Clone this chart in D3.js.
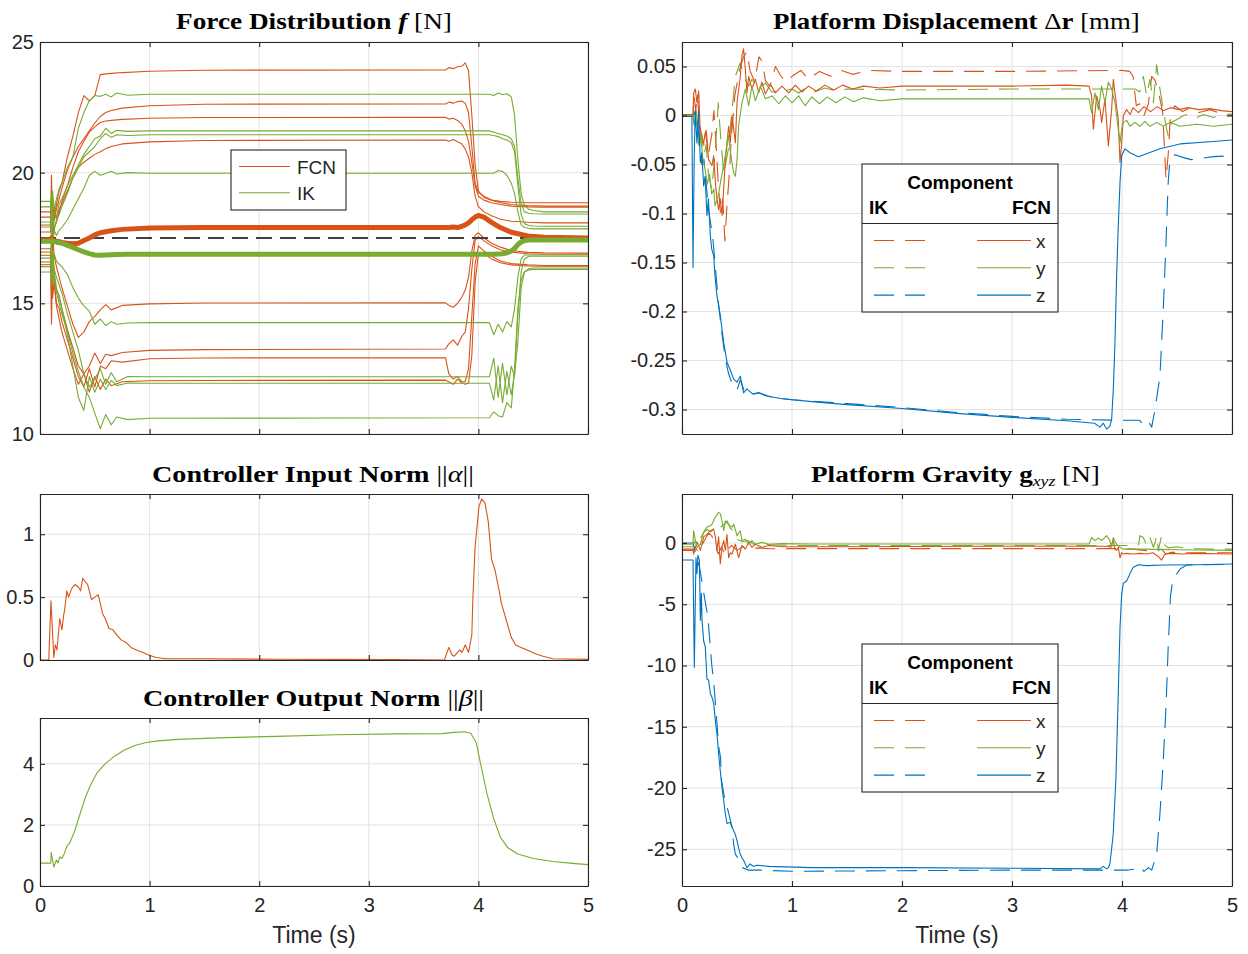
<!DOCTYPE html>
<html><head><meta charset="utf-8">
<script src="https://cdn.jsdelivr.net/npm/d3@7"></script>
<style>body{margin:0;background:#fff}svg{display:block}</style>
</head><body><svg id="c" width="1248" height="954"></svg>
<script>
// ---------------- DATA ----------------
const timeTicks = [0, 1, 2, 3, 4, 5];
const timeTickLabels = ["0", "1", "2", "3", "4", "5"];
const forceTicks = [10, 15, 20, 25];
const forceTickLabels = ["10", "15", "20", "25"];
const alphaTicks = [0, 0.5, 1];
const alphaTickLabels = ["0", "0.5", "1"];
const betaTicks = [0, 2, 4];
const betaTickLabels = ["0", "2", "4"];
const dispTicks = [-0.3, -0.25, -0.2, -0.15, -0.1, -0.05, 0, 0.05];
const dispTickLabels = ["-0.3", "-0.25", "-0.2", "-0.15", "-0.1", "-0.05", "0", "0.05"];
const gravTicks = [-25, -20, -15, -10, -5, 0];
const gravTickLabels = ["-25", "-20", "-15", "-10", "-5", "0"];
const components = ["x", "y", "z"];
const methods = ["FCN", "IK"];

// Force distribution, FCN (8 cables + mean)
const forceTimeFCN = [0, 0.095, 0.105, 0.115, 0.13, 0.15, 0.175, 0.2, 0.25, 0.3, 0.35, 0.4, 0.45, 0.5, 0.55, 0.6, 0.65, 0.75, 1.0, 1.5, 3.7, 3.73, 3.77, 3.81, 3.85, 3.88, 3.91, 3.94, 3.97, 4.0, 4.05, 4.12, 4.2, 4.3, 4.45, 4.6, 5.0];
const forceFCN = [
 [18.0, 18.0, 19.9, 17.2, 18.4, 18.8, 19.3, 19.6, 20.6, 21.4, 22.3, 22.95, 22.75, 22.95, 23.75, 23.78, 23.8, 23.83, 23.88, 23.92, 23.93, 24.02, 23.98, 24.05, 24.08, 24.2, 23.9, 22.2, 20.3, 19.3, 19.05, 18.95, 18.9, 18.87, 18.85, 18.85, 18.85],
 [18.5, 18.5, 17.6, 18.9, 18.2, 18.6, 19.0, 19.4, 20.1, 20.6, 21.0, 21.3, 21.6, 21.9, 22.15, 22.3, 22.38, 22.47, 22.56, 22.62, 22.63, 22.7, 22.66, 22.72, 22.74, 22.65, 22.3, 21.0, 19.6, 19.25, 19.1, 18.95, 18.85, 18.78, 18.74, 18.72, 18.72],
 [17.73, 17.73, 18.6, 17.0, 17.9, 18.1, 18.5, 18.9, 19.5, 20.2, 20.8, 21.2, 21.55, 21.75, 21.92, 21.98, 22.0, 22.04, 22.08, 22.11, 22.12, 22.05, 22.08, 22.0, 21.85, 21.6, 21.2, 20.4, 19.5, 19.1, 18.95, 18.85, 18.78, 18.72, 18.69, 18.68, 18.68],
 [18.3, 18.3, 18.9, 17.5, 18.6, 18.2, 18.6, 18.8, 19.3, 19.8, 20.2, 20.4, 20.55, 20.7, 20.8, 20.92, 21.0, 21.1, 21.18, 21.23, 21.25, 21.2, 21.27, 21.18, 21.1, 20.9, 20.6, 20.0, 19.1, 18.7, 18.5, 18.35, 18.22, 18.14, 18.1, 18.08, 18.08],
 [17.09, 17.09, 16.2, 17.6, 16.8, 16.4, 16.0, 15.6, 14.9, 14.2, 13.7, 13.9, 14.3, 14.5, 14.75, 14.95, 14.75, 14.92, 14.98, 15.01, 15.02, 14.92, 14.85, 15.0, 15.25, 15.5, 16.0, 17.0, 17.6, 17.7, 17.5, 17.3, 17.15, 17.02, 16.95, 16.93, 16.92],
 [16.84, 16.84, 14.2, 17.0, 16.0, 15.5, 15.3, 14.8, 14.0, 13.3, 12.6, 12.3, 12.6, 13.1, 12.7, 13.05, 13.0, 13.12, 13.2, 13.23, 13.25, 13.45, 13.6, 13.4, 13.75, 13.9, 14.8, 16.3, 17.4, 17.55, 17.4, 17.2, 17.05, 16.96, 16.9, 16.88, 16.88],
 [16.58, 16.58, 15.6, 16.9, 15.7, 15.0, 14.8, 14.3, 13.6, 12.9, 12.2, 11.8, 12.5, 11.8, 12.6, 12.5, 12.8, 12.75, 12.88, 12.91, 12.92, 12.3, 12.1, 12.2, 12.0, 12.0, 12.5, 14.5, 16.5, 17.2, 17.0, 16.8, 16.62, 16.52, 16.47, 16.45, 16.45],
 [16.4, 16.4, 16.9, 15.2, 15.9, 14.9, 14.4, 13.9, 13.2, 12.5, 11.9, 12.3, 11.6, 12.2, 11.7, 12.1, 11.85, 12.0, 12.04, 12.05, 12.06, 12.0, 11.9, 12.1, 11.95, 11.9, 11.95, 13.0, 15.8, 16.9, 16.9, 16.7, 16.55, 16.47, 16.43, 16.42, 16.42]
];
const forceFCNMean = [17.42, 17.42, 17.5, 17.38, 17.4, 17.38, 17.36, 17.33, 17.3, 17.28, 17.3, 17.4, 17.5, 17.62, 17.7, 17.74, 17.78, 17.83, 17.88, 17.9, 17.9, 17.9, 17.92, 17.9, 17.95, 18.0, 18.08, 18.2, 18.3, 18.36, 18.3, 18.1, 17.9, 17.72, 17.58, 17.53, 17.5];

// Force distribution, IK (8 cables + mean)
const forceTimeIK = [0, 0.095, 0.105, 0.115, 0.13, 0.15, 0.175, 0.2, 0.25, 0.3, 0.35, 0.4, 0.45, 0.5, 0.55, 0.6, 0.65, 0.7, 0.8, 1.0, 4.1, 4.14, 4.18, 4.22, 4.26, 4.3, 4.33, 4.36, 4.39, 4.42, 4.46, 4.5, 4.6, 5.0];
const forceIK = [
 [18.9, 18.9, 18.2, 19.3, 18.6, 19.0, 19.4, 19.6, 20.2, 20.6, 21.7, 22.3, 22.75, 22.95, 22.92, 23.0, 22.9, 23.05, 22.96, 23.0, 23.0, 22.95, 23.05, 22.98, 23.02, 22.9, 22.2, 20.5, 19.2, 18.75, 18.6, 18.55, 18.5, 18.5],
 [18.69, 18.69, 19.2, 17.9, 18.5, 18.3, 18.8, 19.0, 19.5, 19.9, 20.3, 20.7, 21.0, 21.3, 21.4, 21.7, 21.5, 21.62, 21.58, 21.6, 21.6, 21.55, 21.5, 21.45, 21.4, 21.3, 21.0, 19.8, 18.8, 18.5, 18.45, 18.43, 18.42, 18.42],
 [18.11, 18.11, 17.5, 18.6, 17.8, 18.2, 18.4, 18.7, 19.2, 19.8, 20.2, 20.6, 20.8, 21.0, 21.3, 21.5, 21.35, 21.45, 21.42, 21.45, 21.45, 21.42, 21.38, 21.3, 21.25, 21.15, 20.8, 19.5, 18.4, 18.05, 17.98, 17.96, 17.95, 17.95],
 [17.92, 17.92, 18.5, 17.4, 17.8, 17.6, 17.8, 17.9, 18.2, 18.6, 19.0, 19.4, 19.9, 20.05, 19.9, 19.97, 20.05, 19.95, 20.0, 19.98, 19.98, 19.98, 20.08, 20.05, 19.9, 19.6, 19.2, 18.5, 18.0, 17.9, 17.87, 17.85, 17.85, 17.85],
 [16.96, 16.96, 17.4, 16.5, 16.9, 16.6, 16.5, 16.4, 16.1, 15.6, 15.2, 14.9, 14.7, 14.2, 14.4, 14.15, 14.3, 14.2, 14.25, 14.26, 14.26, 13.8, 14.2, 13.9, 14.3, 14.1, 14.8, 16.0, 16.7, 16.85, 16.85, 16.85, 16.85, 16.85],
 [16.73, 16.73, 16.0, 17.0, 16.3, 16.0, 15.7, 15.4, 14.6, 13.9, 13.2, 12.3, 11.8, 12.1, 12.5, 11.9, 12.35, 12.0, 12.2, 12.19, 12.19, 12.9, 11.4, 12.7, 11.5, 12.6, 12.2, 14.5, 16.2, 16.7, 16.8, 16.8, 16.8, 16.8],
 [16.48, 16.48, 17.0, 15.9, 16.2, 15.6, 15.2, 14.8, 13.8, 12.6, 11.4, 10.9, 12.2, 11.6, 12.1, 11.7, 12.05, 11.85, 11.95, 11.94, 11.94, 11.3, 12.6, 11.2, 12.4, 11.5, 12.3, 13.5, 15.6, 16.2, 16.33, 16.35, 16.35, 16.35],
 [16.2, 16.2, 15.7, 16.5, 15.9, 15.4, 15.0, 14.6, 13.9, 13.1, 12.4, 11.8, 11.4, 10.8, 10.2, 10.75, 10.35, 10.65, 10.55, 10.6, 10.62, 10.85, 10.7, 10.65, 11.2, 11.0, 12.5, 14.8, 15.9, 16.2, 16.28, 16.3, 16.3, 16.3]
];
const forceIKMean = [17.38, 17.38, 17.35, 17.4, 17.36, 17.34, 17.32, 17.3, 17.22, 17.14, 17.05, 16.97, 16.9, 16.85, 16.84, 16.85, 16.86, 16.87, 16.88, 16.88, 16.88, 16.88, 16.89, 16.9, 16.93, 17.0, 17.1, 17.25, 17.35, 17.4, 17.42, 17.42, 17.42, 17.42];
const forceReference = 17.5;

// Controller input norm ||alpha|| : [time, value]
const alphaNorm = [[0,0],[0.08,0],[0.1,0.47],[0.11,0.3],[0.126,0.02],[0.14,0.12],[0.155,0.08],[0.18,0.33],[0.2,0.24],[0.215,0.35],[0.225,0.4],[0.245,0.55],[0.26,0.5],[0.29,0.57],[0.32,0.6],[0.35,0.58],[0.37,0.55],[0.39,0.65],[0.415,0.62],[0.435,0.6],[0.47,0.48],[0.5,0.5],[0.53,0.52],[0.545,0.47],[0.57,0.37],[0.595,0.33],[0.63,0.25],[0.665,0.24],[0.7,0.2],[0.74,0.16],[0.785,0.14],[0.83,0.1],[0.88,0.08],[0.94,0.06],[0.99,0.04],[1.06,0.02],[1.15,0.01],[1.44,0.01],[2.16,0.006],[3.24,0.003],[3.69,0.0],[3.73,0.1],[3.76,0.04],[3.78,0.03],[3.83,0.08],[3.85,0.06],[3.88,0.12],[3.91,0.06],[3.94,0.2],[3.95,0.5],[3.97,0.9],[4.005,1.22],[4.03,1.28],[4.06,1.25],[4.09,1.1],[4.12,0.8],[4.15,0.72],[4.19,0.55],[4.21,0.45],[4.26,0.3],[4.3,0.18],[4.34,0.12],[4.39,0.1],[4.47,0.07],[4.52,0.05],[4.59,0.03],[4.68,0.01],[5.0,0.005]];
// Controller output norm ||beta||
const betaNorm = [[0,0.75],[0.098,0.75],[0.102,1.1],[0.126,0.62],[0.15,0.85],[0.165,0.75],[0.18,0.95],[0.2,0.9],[0.22,1.05],[0.245,1.3],[0.27,1.4],[0.317,1.8],[0.36,2.3],[0.414,2.9],[0.46,3.3],[0.52,3.7],[0.594,4.0],[0.68,4.25],[0.77,4.45],[0.865,4.6],[0.97,4.7],[1.08,4.75],[1.26,4.8],[1.62,4.85],[2.16,4.9],[2.7,4.95],[3.24,4.98],[3.67,4.99],[3.75,5.02],[3.87,5.05],[3.93,5.0],[3.98,4.7],[4.02,4.0],[4.08,3.0],[4.14,2.2],[4.2,1.6],[4.27,1.25],[4.36,1.05],[4.5,0.9],[4.68,0.8],[4.86,0.74],[5.0,0.7]];

// Platform displacement [mm]
const dispXFcn = [[0,0.001],[0.1,0.001],[0.106,0.023],[0.121,0.027],[0.136,0.013],[0.152,0.025],[0.167,-0.021],[0.197,-0.028],[0.212,-0.017],[0.227,-0.028],[0.242,-0.045],[0.273,-0.051],[0.288,-0.041],[0.303,-0.068],[0.318,-0.085],[0.333,-0.096],[0.348,-0.085],[0.364,-0.102],[0.379,-0.075],[0.394,-0.045],[0.424,-0.011],[0.439,-0.028],[0.455,0.0],[0.485,-0.028],[0.5,0.013],[0.53,0.04],[0.545,0.061],[0.56,0.068],[0.576,0.047],[0.591,0.023],[0.606,0.04],[0.636,0.027],[0.667,0.037],[0.697,0.023],[0.727,0.034],[0.758,0.022],[0.803,0.032],[0.848,0.023],[0.909,0.03],[0.97,0.023],[1.03,0.031],[1.09,0.024],[1.15,0.03],[1.22,0.025],[1.3,0.031],[1.38,0.026],[1.46,0.031],[1.55,0.027],[1.65,0.03],[1.8,0.028],[2.0,0.03],[2.5,0.03],[3.0,0.03],[3.5,0.031],[3.7,0.03],[3.724,0.02],[3.739,-0.014],[3.77,0.02],[3.8,0.0065],[3.815,-0.007],[3.845,0.017],[3.876,-0.031],[3.906,0.0065],[3.921,0.037],[3.936,0.023],[3.966,-0.004],[3.982,-0.048],[3.997,-0.028],[4.012,0.0],[4.042,0.006],[4.073,0.001],[4.1,0.008],[4.15,0.003],[4.2,0.009],[4.26,0.004],[4.32,0.009],[4.38,0.005],[4.44,0.008],[4.52,0.006],[4.6,0.008],[4.7,0.006],[4.8,0.007],[4.9,0.005],[5.0,0.004]];
const dispXIk = [[0,0.001],[0.1,0.001],[0.11,0.02],[0.125,0.005],[0.14,0.022],[0.16,-0.01],[0.18,-0.02],[0.2,-0.03],[0.22,-0.015],[0.24,-0.04],[0.27,-0.02],[0.29,0.005],[0.31,-0.03],[0.33,-0.07],[0.35,-0.1],[0.37,-0.085],[0.39,-0.128],[0.41,-0.09],[0.43,-0.06],[0.45,-0.02],[0.48,0.02],[0.52,0.045],[0.56,0.06],[0.59,0.065],[0.62,0.045],[0.66,0.035],[0.7,0.06],[0.73,0.055],[0.76,0.035],[0.8,0.03],[0.85,0.05],[0.9,0.04],[0.95,0.034],[1.0,0.04],[1.08,0.046],[1.15,0.037],[1.25,0.045],[1.35,0.04],[1.45,0.046],[1.55,0.042],[1.7,0.046],[2.0,0.045],[3.0,0.045],[4.0,0.046],[4.07,0.045],[4.1,0.04],[4.13,0.01],[4.16,0.012],[4.2,0.0],[4.24,0.012],[4.27,0.04],[4.3,0.036],[4.33,0.025],[4.37,0.003],[4.4,-0.065],[4.42,-0.04],[4.44,0.0],[4.48,0.01],[4.55,0.004],[4.62,0.008],[4.7,0.003],[4.8,0.006],[4.9,0.002],[5.0,0.001]];
const dispYFcn = [[0,0.0],[0.1,0.0],[0.11,-0.01],[0.13,0.005],[0.15,-0.03],[0.17,-0.02],[0.19,-0.045],[0.21,-0.055],[0.23,-0.07],[0.25,-0.06],[0.27,-0.08],[0.29,-0.075],[0.3,-0.092],[0.33,-0.082],[0.35,-0.068],[0.38,-0.05],[0.41,-0.03],[0.42,-0.02],[0.45,-0.045],[0.47,-0.058],[0.485,-0.062],[0.5,-0.045],[0.515,-0.01],[0.545,0.013],[0.576,0.027],[0.606,0.01],[0.636,0.03],[0.667,0.015],[0.712,0.03],[0.758,0.017],[0.818,0.02],[0.88,0.012],[0.94,0.02],[1.0,0.013],[1.06,0.02],[1.12,0.01],[1.18,0.019],[1.25,0.012],[1.32,0.019],[1.4,0.013],[1.48,0.019],[1.56,0.014],[1.65,0.018],[1.8,0.015],[2.0,0.017],[3.0,0.017],[3.7,0.017],[3.724,0.003],[3.754,0.023],[3.785,0.006],[3.815,0.03],[3.845,0.013],[3.876,0.034],[3.906,0.027],[3.936,0.013],[3.966,-0.014],[3.982,-0.028],[3.997,-0.014],[4.012,-0.007],[4.042,-0.005],[4.073,-0.011],[4.118,-0.007],[4.163,-0.011],[4.209,-0.006],[4.254,-0.011],[4.315,-0.007],[4.376,-0.011],[4.436,-0.007],[4.527,-0.011],[4.68,-0.009],[4.83,-0.011],[5.0,-0.009]];
const dispYIk = [[0,0.0],[0.1,0.0],[0.12,-0.015],[0.14,-0.005],[0.16,-0.03],[0.18,-0.02],[0.2,-0.04],[0.22,-0.03],[0.24,-0.06],[0.27,-0.075],[0.3,-0.04],[0.33,0.013],[0.35,-0.02],[0.38,-0.06],[0.42,-0.035],[0.45,0.0],[0.485,0.04],[0.53,0.054],[0.56,0.04],[0.606,0.03],[0.636,0.037],[0.697,0.027],[0.758,0.033],[0.818,0.024],[0.909,0.025],[1.0,0.027],[1.06,0.023],[1.12,0.028],[1.2,0.024],[1.3,0.028],[1.4,0.025],[1.5,0.027],[2.0,0.026],[3.0,0.027],[4.12,0.027],[4.163,0.024],[4.194,0.04],[4.224,0.02],[4.254,0.037],[4.285,0.013],[4.315,0.052],[4.345,0.027],[4.376,0.006],[4.406,-0.014],[4.42,-0.021],[4.45,-0.007],[4.5,-0.004],[4.56,0.0],[4.62,0.002],[4.68,-0.002],[4.74,0.001],[4.83,-0.002],[4.92,0.001],[5.0,0.0]];
const dispZFcn = [[0,-0.001],[0.09,-0.001],[0.1,-0.155],[0.11,-0.05],[0.12,0.005],[0.136,-0.028],[0.15,0.004],[0.167,-0.048],[0.18,-0.038],[0.197,-0.072],[0.21,-0.062],[0.227,-0.102],[0.24,-0.085],[0.258,-0.123],[0.27,-0.136],[0.288,-0.143],[0.3,-0.164],[0.318,-0.184],[0.348,-0.204],[0.379,-0.232],[0.41,-0.252],[0.44,-0.26],[0.47,-0.269],[0.5,-0.272],[0.53,-0.266],[0.56,-0.283],[0.59,-0.279],[0.64,-0.284],[0.7,-0.283],[0.76,-0.286],[0.91,-0.289],[1.18,-0.292],[1.5,-0.295],[2.0,-0.299],[2.5,-0.304],[3.0,-0.308],[3.5,-0.3115],[3.75,-0.314],[3.8,-0.318],[3.83,-0.314],[3.86,-0.32],[3.89,-0.317],[3.906,-0.31],[3.921,-0.279],[3.936,-0.232],[3.951,-0.164],[3.966,-0.113],[3.982,-0.068],[3.997,-0.041],[4.027,-0.034],[4.073,-0.038],[4.148,-0.042],[4.224,-0.039],[4.345,-0.034],[4.527,-0.029],[4.83,-0.0265],[5.0,-0.025]];
const dispZIk = [[0,-0.001],[0.1,-0.001],[0.12,0.004],[0.14,-0.01],[0.16,-0.03],[0.18,-0.05],[0.2,-0.045],[0.22,-0.07],[0.24,-0.095],[0.26,-0.11],[0.28,-0.125],[0.3,-0.15],[0.33,-0.19],[0.36,-0.22],[0.39,-0.245],[0.42,-0.262],[0.46,-0.275],[0.5,-0.28],[0.53,-0.27],[0.57,-0.282],[0.62,-0.285],[0.7,-0.283],[0.8,-0.287],[1.0,-0.29],[1.5,-0.294],[2.0,-0.298],[2.5,-0.303],[3.0,-0.307],[3.5,-0.31],[4.0,-0.311],[4.16,-0.311],[4.2,-0.316],[4.24,-0.312],[4.27,-0.318],[4.3,-0.3],[4.345,-0.266],[4.375,-0.198],[4.4,-0.13],[4.42,-0.068],[4.436,-0.045],[4.48,-0.04],[4.56,-0.043],[4.63,-0.045],[4.71,-0.044],[4.83,-0.042],[5.0,-0.041]];

// Platform gravity [N]
const gravXFcn = [[0,-0.5],[0.1,-0.5],[0.106,-0.9],[0.136,0.1],[0.167,-0.6],[0.197,0.5],[0.227,0.7],[0.258,1.0],[0.288,1.1],[0.303,0.5],[0.318,-0.6],[0.333,0.5],[0.348,-1.7],[0.364,-0.35],[0.379,0.2],[0.394,-0.6],[0.409,0.7],[0.424,-1.2],[0.439,-0.8],[0.455,-0.9],[0.485,-0.1],[0.515,-1.2],[0.545,-0.2],[0.576,-0.5],[0.606,0.05],[0.636,-0.35],[0.667,-0.1],[0.727,-0.35],[0.788,-0.2],[0.909,-0.3],[1.18,-0.3],[2.0,-0.28],[3.0,-0.27],[3.876,-0.27],[3.89,-0.35],[3.906,-0.1],[3.92,0.2],[3.936,-0.5],[3.951,-0.6],[3.966,-0.35],[3.982,-1.2],[3.997,-0.8],[4.012,-0.9],[4.042,-0.85],[4.1,-0.9],[4.16,-0.85],[4.224,-0.9],[4.28,-0.8],[4.33,-1.1],[4.36,-1.4],[4.39,-0.9],[4.45,-0.85],[4.55,-0.9],[4.68,-0.85],[5.0,-0.9]];
const gravXIk = [[0,-0.6],[0.1,-0.6],[0.12,-0.3],[0.15,-0.8],[0.18,-0.2],[0.21,0.3],[0.24,0.8],[0.27,0.6],[0.3,-0.2],[0.33,-0.9],[0.36,-0.3],[0.39,-1.0],[0.42,-0.5],[0.45,-0.2],[0.5,-0.6],[0.55,-0.3],[0.6,-0.45],[0.7,-0.4],[0.8,-0.47],[1.0,-0.46],[2.0,-0.46],[3.0,-0.46],[4.0,-0.46],[4.1,-0.5],[4.2,-0.6],[4.3,-0.7],[4.36,-0.5],[4.4,-0.9],[4.45,-0.75],[4.55,-0.8],[5.0,-0.8]];
const gravYFcn = [[0,-0.1],[0.1,-0.1],[0.106,1.0],[0.12,0.3],[0.136,-0.35],[0.167,-0.1],[0.197,0.9],[0.227,1.3],[0.258,1.4],[0.273,1.55],[0.303,2.1],[0.333,2.5],[0.348,2.4],[0.364,1.8],[0.379,1.0],[0.394,1.8],[0.424,1.5],[0.455,1.3],[0.47,1.55],[0.5,0.6],[0.53,1.0],[0.545,0.2],[0.576,0.3],[0.606,-0.1],[0.636,0.2],[0.667,-0.1],[0.727,0.05],[0.788,-0.1],[0.909,-0.05],[1.18,-0.08],[2.0,-0.08],[3.0,-0.08],[3.7,-0.08],[3.724,0.45],[3.754,0.2],[3.785,0.4],[3.815,0.2],[3.86,0.6],[3.89,0.2],[3.906,-0.35],[3.92,0.45],[3.95,-0.1],[3.98,-0.35],[4.012,-0.5],[4.2,-0.5],[4.5,-0.55],[5.0,-0.6]];
const gravYIk = [[0,-0.3],[0.1,-0.3],[0.12,0.2],[0.14,-0.2],[0.17,0.4],[0.2,0.9],[0.23,1.1],[0.26,0.9],[0.29,1.2],[0.32,1.6],[0.35,1.3],[0.38,1.5],[0.41,1.8],[0.44,1.2],[0.47,1.0],[0.5,0.3],[0.55,0.1],[0.6,0.2],[0.65,-0.1],[0.7,0.0],[0.8,-0.15],[1.0,-0.2],[2.0,-0.2],[3.0,-0.2],[4.15,-0.2],[4.163,0.6],[4.194,0.45],[4.224,-0.2],[4.254,0.46],[4.285,-0.35],[4.3,0.0],[4.315,0.6],[4.33,-0.6],[4.36,0.6],[4.38,-0.1],[4.42,-0.4],[4.5,-0.3],[4.6,-0.45],[4.8,-0.5],[5.0,-0.5]];
const gravZFcn = [[0,-1.39],[0.1,-1.39],[0.112,-10.15],[0.127,-1.2],[0.136,-2.5],[0.145,-1.0],[0.158,-1.4],[0.167,-6.3],[0.176,-4.1],[0.182,-6.3],[0.197,-8.0],[0.212,-8.5],[0.227,-11.1],[0.242,-11.2],[0.258,-12.3],[0.273,-12.6],[0.288,-13.1],[0.303,-14.5],[0.318,-15.6],[0.333,-17.2],[0.348,-18.6],[0.364,-20.0],[0.379,-21.0],[0.394,-22.1],[0.409,-22.9],[0.439,-22.8],[0.455,-23.2],[0.485,-23.8],[0.5,-24.3],[0.515,-24.9],[0.53,-25.4],[0.545,-25.7],[0.56,-25.9],[0.59,-26.5],[0.62,-26.2],[0.65,-26.4],[0.68,-26.3],[0.79,-26.4],[1.18,-26.5],[2.0,-26.5],[3.0,-26.55],[3.8,-26.6],[3.83,-26.4],[3.86,-26.6],[3.876,-26.5],[3.89,-26.2],[3.92,-23.8],[3.945,-19.1],[3.966,-12.3],[3.982,-6.9],[3.997,-4.2],[4.012,-3.3],[4.042,-3.1],[4.073,-2.5],[4.1,-2.0],[4.148,-1.77],[4.224,-1.85],[4.376,-1.8],[4.68,-1.77],[5.0,-1.71]];
const gravZIk = [[0,0.0],[0.1,0.0],[0.13,-1.0],[0.16,-2.0],[0.2,-4.2],[0.236,-6.1],[0.27,-9.9],[0.29,-11.5],[0.32,-15.0],[0.335,-16.7],[0.35,-17.5],[0.36,-19.4],[0.38,-20.5],[0.42,-21.9],[0.455,-23.2],[0.47,-24.6],[0.485,-25.4],[0.5,-25.6],[0.55,-26.5],[0.6,-26.7],[0.7,-26.7],[1.0,-26.8],[2.0,-26.75],[3.0,-26.7],[4.0,-26.7],[4.05,-26.7],[4.13,-26.6],[4.16,-26.4],[4.2,-26.8],[4.24,-26.5],[4.27,-26.7],[4.315,-25.4],[4.345,-22.1],[4.375,-17.8],[4.4,-13.4],[4.42,-8.5],[4.44,-4.4],[4.46,-3.1],[4.5,-2.5],[4.53,-2.1],[4.59,-1.8],[4.7,-1.77],[5.0,-1.75]];

// ---------------- DRAWING ----------------
const COL = { FCN: "#D95319", IK: "#77AC30", x: "#D95319", y: "#77AC30", z: "#0072BD" };
const AX = "#262626", GRID = "#e2e2e2";
const SANS = "'Liberation Sans', Arial, Helvetica, sans-serif";
const SERIF = "'Liberation Serif', 'Times New Roman', serif";
const DASH = "20,11";
const svg = d3.select("#c");
const defs = svg.append("defs");

function makePanel(id, p) {
  const x = d3.scaleLinear().domain([0, 5]).range([p.l, p.r]);
  const y = d3.scaleLinear().domain(p.yd).range([p.b, p.t]);
  const g = svg.append("g");
  g.append("g").selectAll("line").data(timeTicks).join("line")
    .attr("x1", d => x(d)).attr("x2", d => x(d)).attr("y1", p.t).attr("y2", p.b)
    .attr("stroke", GRID).attr("stroke-width", 1);
  g.append("g").selectAll("line").data(p.yt).join("line")
    .attr("y1", d => y(d)).attr("y2", d => y(d)).attr("x1", p.l).attr("x2", p.r)
    .attr("stroke", GRID).attr("stroke-width", 1);
  defs.append("clipPath").attr("id", "clip-" + id).append("rect")
    .attr("x", p.l).attr("y", p.t).attr("width", p.r - p.l).attr("height", p.b - p.t);
  const plot = svg.append("g").attr("clip-path", `url(#clip-${id})`);
  return { x, y, plot, p };
}

function styleAxis(sel) {
  sel.attr("font-family", SANS).attr("font-size", 20);
  sel.selectAll(".domain").attr("stroke", AX).attr("stroke-width", 1.1);
  sel.selectAll(".tick line").attr("stroke", AX).attr("stroke-width", 1.1);
  sel.selectAll(".tick text").attr("fill", AX);
}

function finishPanel(P) {
  const { x, y, p } = P;
  const fy = d => p.yl[p.yt.indexOf(d)];
  const fx = d => timeTickLabels[timeTicks.indexOf(d)];
  svg.append("g").attr("transform", `translate(${p.l},0)`)
    .call(d3.axisLeft(y).tickValues(p.yt).tickFormat(fy).tickSizeInner(-5).tickSizeOuter(0).tickPadding(6)).call(styleAxis);
  svg.append("g").attr("transform", `translate(${p.r},0)`)
    .call(d3.axisRight(y).tickValues(p.yt).tickFormat("").tickSizeInner(-5).tickSizeOuter(0)).call(styleAxis);
  svg.append("g").attr("transform", `translate(0,${p.b})`)
    .call(d3.axisBottom(x).tickValues(timeTicks).tickFormat(p.xl ? fx : "").tickSizeInner(-5).tickSizeOuter(0).tickPadding(12)).call(styleAxis);
  svg.append("g").attr("transform", `translate(0,${p.t})`)
    .call(d3.axisTop(x).tickValues(timeTicks).tickFormat("").tickSizeInner(-5).tickSizeOuter(0)).call(styleAxis);
  if (p.xl) {
    svg.append("text").attr("x", (p.l + p.r) / 2).attr("y", 943).attr("text-anchor", "middle")
      .attr("font-family", SANS).attr("font-size", 23).attr("fill", AX).text("Time (s)");
  }
}

function drawPairs(P, pts, color, width, dash) {
  const line = d3.line().x(d => P.x(d[0])).y(d => P.y(d[1]));
  const path = P.plot.append("path").attr("d", line(pts)).attr("fill", "none")
    .attr("stroke", color).attr("stroke-width", width).attr("stroke-linejoin", "round");
  if (dash) path.attr("stroke-dasharray", dash);
  return path;
}

function title(parts, x0, x1, baseline) {
  const g = svg.append("g");
  const t = g.append("text").attr("x", 0).attr("y", 0).attr("font-family", SERIF).attr("font-size", 23).attr("fill", "#000");
  parts.forEach(pt => {
    const s = t.append("tspan").text(pt.t).attr("font-weight", pt.w || "bold").attr("font-style", pt.s || "normal");
    if (pt.size) s.attr("font-size", pt.size);
    if (pt.dy) s.attr("dy", pt.dy);
  });
  const w = t.node().getBBox().width;
  g.attr("transform", `translate(${x0},${baseline}) scale(${(x1 - x0) / w},1)`);
}

// ---- Force distribution ----
const PF = makePanel("force", { l: 40, r: 588, t: 42, b: 434, yd: [10, 25], yt: forceTicks, yl: forceTickLabels, xl: false });
forceFCN.forEach(vals => drawPairs(PF, d3.zip(forceTimeFCN, vals), COL.FCN, 1.1));
forceIK.forEach(vals => drawPairs(PF, d3.zip(forceTimeIK, vals), COL.IK, 1.1));
PF.plot.append("line").attr("x1", PF.x(0)).attr("x2", PF.x(5)).attr("y1", PF.y(forceReference)).attr("y2", PF.y(forceReference))
  .attr("stroke", "#404040").attr("stroke-width", 1.8).attr("stroke-dasharray", "16,8");
drawPairs(PF, d3.zip(forceTimeFCN, forceFCNMean), COL.FCN, 5);
drawPairs(PF, d3.zip(forceTimeIK, forceIKMean), COL.IK, 5);
finishPanel(PF);
// legend
(function () {
  const g = svg.append("g");
  g.append("rect").attr("x", 231).attr("y", 150).attr("width", 115).attr("height", 60).attr("fill", "#fff").attr("stroke", AX).attr("stroke-width", 1.1);
  methods.forEach((m, i) => {
    const yy = 166.5 + i * 26.3;
    g.append("line").attr("x1", 239).attr("x2", 290).attr("y1", yy).attr("y2", yy).attr("stroke", COL[m]).attr("stroke-width", 1.1);
    g.append("text").attr("x", 297).attr("y", yy + 7).attr("font-family", SANS).attr("font-size", 19).attr("fill", AX).text(m);
  });
})();
title([{ t: "Force Distribution " }, { t: "f", s: "italic" }, { t: " [N]", w: "normal" }], 176, 452, 29);

// ---- Controller input norm ----
const PA = makePanel("alpha", { l: 40, r: 588, t: 494, b: 660, yd: [0, 1.32], yt: alphaTicks, yl: alphaTickLabels, xl: false });
drawPairs(PA, alphaNorm, COL.FCN, 1.1);
finishPanel(PA);
title([{ t: "Controller Input Norm " }, { t: "||", w: "normal" }, { t: "\u03B1", w: "normal", s: "italic" }, { t: "||", w: "normal" }], 152, 474, 482);

// ---- Controller output norm ----
const PB = makePanel("beta", { l: 40, r: 588, t: 718, b: 886, yd: [0, 5.5], yt: betaTicks, yl: betaTickLabels, xl: true });
drawPairs(PB, betaNorm, COL.IK, 1.1);
finishPanel(PB);
title([{ t: "Controller Output Norm " }, { t: "||", w: "normal" }, { t: "\u03B2", w: "normal", s: "italic" }, { t: "||", w: "normal" }], 143, 484, 706);

// ---- Component legend ----
function compLegend(y0) {
  const g = svg.append("g");
  g.append("rect").attr("x", 862).attr("y", y0).attr("width", 196).attr("height", 148).attr("fill", "#fff").attr("stroke", AX).attr("stroke-width", 1.1);
  g.append("text").attr("x", 960).attr("y", y0 + 24.5).attr("text-anchor", "middle").attr("font-family", SANS).attr("font-weight", "bold").attr("font-size", 19).attr("fill", "#000").text("Component");
  g.append("text").attr("x", 869).attr("y", y0 + 50).attr("font-family", SANS).attr("font-weight", "bold").attr("font-size", 19).attr("fill", "#000").text(methods[1]);
  g.append("text").attr("x", 1051).attr("y", y0 + 50).attr("text-anchor", "end").attr("font-family", SANS).attr("font-weight", "bold").attr("font-size", 19).attr("fill", "#000").text(methods[0]);
  g.append("line").attr("x1", 862).attr("x2", 1058).attr("y1", y0 + 59.5).attr("y2", y0 + 59.5).attr("stroke", AX).attr("stroke-width", 1.1);
  components.forEach((c, i) => {
    const yy = y0 + 76.5 + i * 27.3;
    g.append("line").attr("x1", 874).attr("x2", 926).attr("y1", yy).attr("y2", yy).attr("stroke", COL[c]).attr("stroke-width", 1.1).attr("stroke-dasharray", DASH);
    g.append("line").attr("x1", 977).attr("x2", 1031).attr("y1", yy).attr("y2", yy).attr("stroke", COL[c]).attr("stroke-width", 1.1);
    g.append("text").attr("x", 1036).attr("y", yy + 7).attr("font-family", SANS).attr("font-size", 19).attr("fill", AX).text(c);
  });
}

// ---- Platform displacement ----
const PD = makePanel("disp", { l: 682, r: 1232, t: 42, b: 434, yd: [-0.325, 0.075], yt: dispTicks, yl: dispTickLabels, xl: false });
drawPairs(PD, dispXIk, COL.x, 1.1, DASH);
drawPairs(PD, dispYIk, COL.y, 1.1, DASH);
drawPairs(PD, dispZIk, COL.z, 1.1, DASH);
drawPairs(PD, dispXFcn, COL.x, 1.1);
drawPairs(PD, dispYFcn, COL.y, 1.1);
drawPairs(PD, dispZFcn, COL.z, 1.1);
finishPanel(PD);
compLegend(164);
title([{ t: "Platform Displacement " }, { t: "\u0394", w: "normal" }, { t: "r" }, { t: " [mm]", w: "normal" }], 773, 1140, 29);

// ---- Platform gravity ----
const PG = makePanel("grav", { l: 682, r: 1232, t: 494, b: 886, yd: [-28, 4], yt: gravTicks, yl: gravTickLabels, xl: true });
drawPairs(PG, gravXIk, COL.x, 1.1, DASH);
drawPairs(PG, gravYIk, COL.y, 1.1, DASH);
drawPairs(PG, gravZIk, COL.z, 1.1, DASH);
drawPairs(PG, gravXFcn, COL.x, 1.1);
drawPairs(PG, gravYFcn, COL.y, 1.1);
drawPairs(PG, gravZFcn, COL.z, 1.1);
finishPanel(PG);
compLegend(644);
title([{ t: "Platform Gravity " }, { t: "g" }, { t: "xyz", w: "normal", s: "italic", size: 15, dy: 4 }, { t: " [N]", w: "normal", dy: -4 }], 811, 1100, 482);
</script></body></html>
